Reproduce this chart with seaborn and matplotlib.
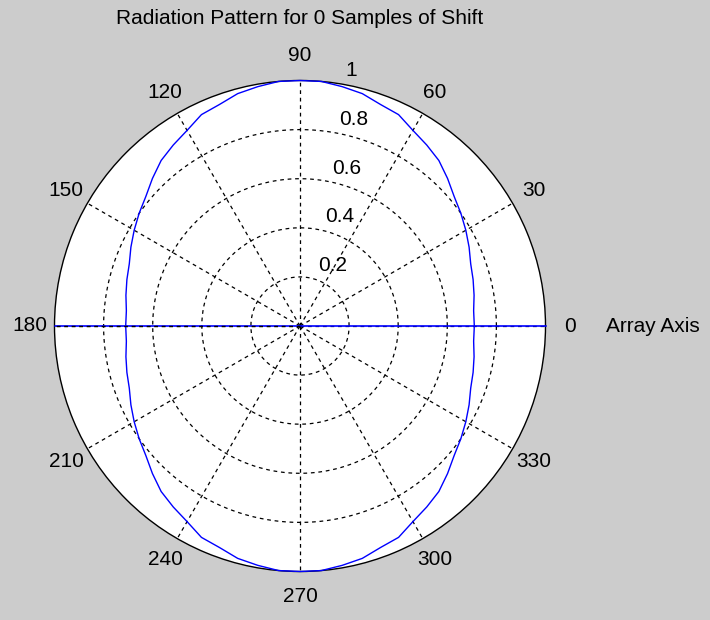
import numpy as np
import matplotlib
matplotlib.use("Agg")
import matplotlib.pyplot as plt
import seaborn as sns

sns.set_style("white")
plt.rcParams["font.family"] = ["Liberation Sans", "DejaVu Sans"]
plt.rcParams["text.color"] = "black"

# Pattern magnitude over one quadrant (0..90 deg, 5 deg steps); the
# pattern is symmetric about both the array axis and its normal.
quadrant_deg = [0, 5, 10, 15, 20, 25, 30, 35, 40, 45,
                50, 55, 60, 65, 70, 75, 80, 85, 90]
quadrant_mag = [0.71, 0.71, 0.72, 0.73, 0.74, 0.76, 0.78, 0.80, 0.82, 0.85,
                0.88, 0.90, 0.92, 0.95, 0.96, 0.98, 0.99, 1.00, 1.00]

angle_labels = ["0", "30", "60", "90", "120", "150",
                "180", "210", "240", "270", "300", "330"]
angle_ticks = [0, 30, 60, 90, 120, 150, 180, 210, 240, 270, 300, 330]
radius_ticks = [0.2, 0.4, 0.6, 0.8, 1.0]
radius_labels = ["0.2", "0.4", "0.6", "0.8", "1"]
title_text = "Radiation Pattern for 0 Samples of Shift"
axis_label = "Array Axis"

# full 0..360 pattern from the quadrant
q_deg = np.array(quadrant_deg, dtype=float)
q_mag = np.array(quadrant_mag)
deg = np.concatenate([q_deg, 180 - q_deg[::-1][1:], 180 + q_deg[1:], 360 - q_deg[::-1][1:]])
mag = np.concatenate([q_mag, q_mag[::-1][1:], q_mag[1:], q_mag[::-1][1:]])
theta = np.deg2rad(deg)

W, H = 710, 620
fig = plt.figure(figsize=(W / 100, H / 100), dpi=100, facecolor="#cccccc")
cx, cy, R = 300, 326, 245.5
ax = fig.add_axes([(cx - R) / W, (H - cy - R) / H, 2 * R / W, 2 * R / H],
                  projection="polar")
ax.set_facecolor("white")
ax.set_ylim(0, 1)
ax.set_xticks([])
ax.set_yticks([])
ax.grid(False)
ax.spines["polar"].set_color("black")
ax.spines["polar"].set_linewidth(1.0)

dash = (0, (3, 3))
# dashed range rings
ring_t = np.linspace(0, 2 * np.pi, 361)
for r in radius_ticks[:-1]:
    ax.plot(ring_t, np.full_like(ring_t, r), color="black", lw=0.9,
            linestyle=dash, zorder=2)
# dashed spokes every 30 degrees
for a in angle_ticks:
    ax.plot([0, np.deg2rad(a)], [0, 1], color="black", lw=0.9,
            linestyle=dash, zorder=2)

# radiation pattern
sns.lineplot(x=theta, y=mag, ax=ax, sort=False, estimator=None,
             color="#0000ff", lw=1.0, zorder=4)
# array axis line
ax.plot([0, 0], [0, 1], color="#0000ff", lw=1.2, zorder=4)
ax.plot([np.pi, np.pi], [0, 1], color="#0000ff", lw=1.2, zorder=4)
ax.plot([np.pi, np.pi], [0, 1], color="black", lw=0.9, linestyle=dash, zorder=5)
for ln in ax.lines:
    ln.set_clip_on(False)

fs = 15
# angle labels
for a, lab in zip(angle_ticks, angle_labels):
    ax.text(np.deg2rad(a), 1.1, lab, ha="center", va="center", fontsize=fs,
            color="black", clip_on=False)
# range labels, placed along the 82 degree direction
c82, s82 = np.cos(np.deg2rad(82)), np.sin(np.deg2rad(82))
for r, lab in zip(radius_ticks, radius_labels):
    x = (r + 0.01) * c82 + 0.045
    y = (r + 0.01) * s82
    ax.text(np.arctan2(y, x), np.hypot(x, y), lab, ha="left", va="bottom",
            fontsize=fs, color="black", clip_on=False)

ax.text(0, 1.245, axis_label, ha="left", va="center", fontsize=fs,
        color="black", clip_on=False)
fig.text(cx / W, 1 - 19 / H, title_text, ha="center", va="center",
         fontsize=fs, color="black")

fig.savefig("out.png", dpi=100, facecolor=fig.get_facecolor())
